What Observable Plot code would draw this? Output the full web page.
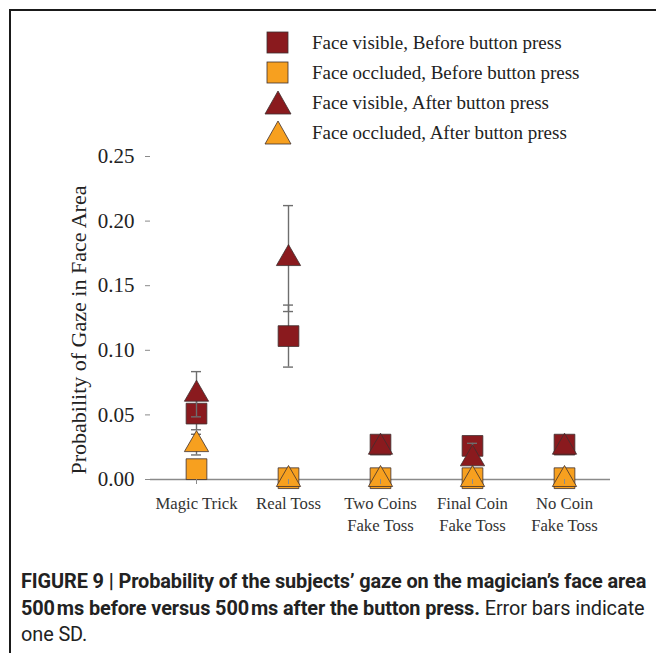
<!DOCTYPE html>
<html>
<head>
<meta charset="utf-8">
<script src="https://cdn.jsdelivr.net/npm/d3@7"></script>
<script src="https://cdn.jsdelivr.net/npm/@observablehq/plot@0.6"></script>
<style>
  html, body { margin: 0; padding: 0; background: #fff; }
  #wrap { position: relative; width: 656px; height: 653px; overflow: hidden; background: #fff; }
  #frame { position: absolute; left: 9px; top: 9px; width: 700px; height: 700px; border-top: 2px solid #1a1a1a; border-left: 2px solid #1a1a1a; }
  #chart { position: absolute; left: 0; top: 0; }
  #legend { position: absolute; left: 262px; top: 28px; font-family: "Liberation Serif", "Times New Roman", serif; font-size: 19px; color: #222; }
  .lrow { display: flex; align-items: center; height: 30px; white-space: nowrap; }
  .lrow svg { width: 32px; height: 26px; margin-right: 18px; }
  #caption { position: absolute; left: 21px; top: 569px; width: 640px; white-space: nowrap; font-family: "Roboto", "Liberation Sans", sans-serif; font-size: 19.9px; line-height: 26.5px; color: #222; letter-spacing: -0.1px; }
  #caption b { font-weight: bold; }
  #chart g[aria-label="y-axis label"] { translate: 0px 12px; }
  #chart g[aria-label="y-axis label"] text { font-size: 22px !important; }
  #chart g[aria-label="y-axis tick label"] { font-size: 21px !important; }
</style>
</head>
<body>
<div id="wrap">
  <div id="frame"></div>
  <div id="chart"></div>
  <div id="legend"></div>
  <div id="caption"><b>FIGURE 9 | Probability of the subjects’ gaze on the magician’s face area</b><br><b>500&#8202;ms before versus 500&#8202;ms after the button press.</b> Error bars indicate<br>one SD.</div>
</div>
<script>
const categories = ["Magic Trick", "Real Toss", "Two Coins\nFake Toss", "Final Coin\nFake Toss", "No Coin\nFake Toss"];
const seriesNames = [
  "Face visible, Before button press",
  "Face occluded, Before button press",
  "Face visible, After button press",
  "Face occluded, After button press"
];
const visibleBefore   = [0.051, 0.111, 0.027, 0.026, 0.027];
const visibleBeforeSD = [0.0125, 0.024, 0.002, 0.002, 0.002];
const occludedBefore   = [0.008, 0.001, 0.001, 0.001, 0.001];
const occludedBeforeSD = [0.005, 0.001, 0.001, 0.001, 0.001];
const visibleAfter   = [0.066, 0.171, 0.025, 0.016, 0.025];
const visibleAfterSD = [0.0175, 0.041, 0.003, 0.012, 0.003];
const occludedAfter   = [0.027, 0.000, 0.000, 0.000, 0.000];
const occludedAfterSD = [0.008, 0.001, 0.001, 0.001, 0.001];
const yTicks = [0, 0.05, 0.10, 0.15, 0.20, 0.25];

const darkRed = "#8a1a1e";
const orange = "#f7a01f";
const outline = "#3d3030";

const seriesDefs = [
  {name: seriesNames[0], values: visibleBefore, sd: visibleBeforeSD, symbol: "square", fill: darkRed},
  {name: seriesNames[1], values: occludedBefore, sd: occludedBeforeSD, symbol: "square", fill: orange},
  {name: seriesNames[2], values: visibleAfter, sd: visibleAfterSD, symbol: "triangle", fill: darkRed},
  {name: seriesNames[3], values: occludedAfter, sd: occludedAfterSD, symbol: "triangle", fill: orange}
];

function rowsOf(s) {
  return categories.map((c, i) => ({cat: c, value: s.values[i], lo: s.values[i] - s.sd[i], hi: s.values[i] + s.sd[i]}));
}

const marks = [Plot.ruleY([0], {stroke: "#8a8a8a", strokeWidth: 1.3})];
for (const s of seriesDefs) {
  const rows = rowsOf(s);
  marks.push(Plot.ruleX(rows, {x: "cat", y1: "lo", y2: "hi", stroke: "#6e6e6e", strokeWidth: 1.4}));
  marks.push(Plot.tickY(rows, {x: "cat", y: "lo", stroke: "#6e6e6e", strokeWidth: 1.4, insetLeft: 41, insetRight: 41}));
  marks.push(Plot.tickY(rows, {x: "cat", y: "hi", stroke: "#6e6e6e", strokeWidth: 1.4, insetLeft: 41, insetRight: 41}));
  marks.push(Plot.dot(rows, {x: "cat", y: "value", symbol: s.symbol, r: s.symbol === "square" ? 11.7 : 9, fill: s.fill, stroke: outline, strokeWidth: 0.8}));
}

marks.push(Plot.axisY({ticks: yTicks, tickFormat: d3.format(".2f"), tickSize: 5, tickPadding: 11, fontSize: 21, fontFamily: "Liberation Serif, serif", fill: "#222", stroke: "#8a8a8a", label: "Probability of Gaze in Face Area", labelAnchor: "center", labelOffset: 80, labelArrow: "none"}));
marks.push(Plot.axisX({tickSize: 5, tickPadding: 9, fontSize: 16.7, fontFamily: "Liberation Serif, serif", fill: "#333", stroke: "#8a8a8a", lineHeight: 1.32, label: null}));

const chart = Plot.plot({
  width: 656,
  height: 560,
  marginTop: 156,
  marginBottom: 81,
  marginLeft: 150,
  marginRight: 46,
  style: {fontFamily: "Liberation Serif, Times New Roman, serif", color: "#222", background: "transparent", overflow: "visible"},
  x: {domain: categories, padding: 0, label: null},
  y: {domain: [0, 0.25], line: true, label: "Probability of Gaze in Face Area"},
  marks
});
document.getElementById("chart").appendChild(chart);

// legend
const legend = document.getElementById("legend");
for (const s of seriesDefs) {
  const row = document.createElement("div");
  row.className = "lrow";
  const shape = s.symbol === "square"
    ? `<rect x="5" y="2" width="21" height="21" fill="${s.fill}" stroke="${outline}" stroke-width="0.8"/>`
    : `<polygon points="16,1 3,24 29,24" fill="${s.fill}" stroke="${outline}" stroke-width="0.8"/>`;
  row.innerHTML = `<svg viewBox="0 0 32 26">${shape}</svg><span>${s.name}</span>`;
  legend.appendChild(row);
}
</script>
</body>
</html>
